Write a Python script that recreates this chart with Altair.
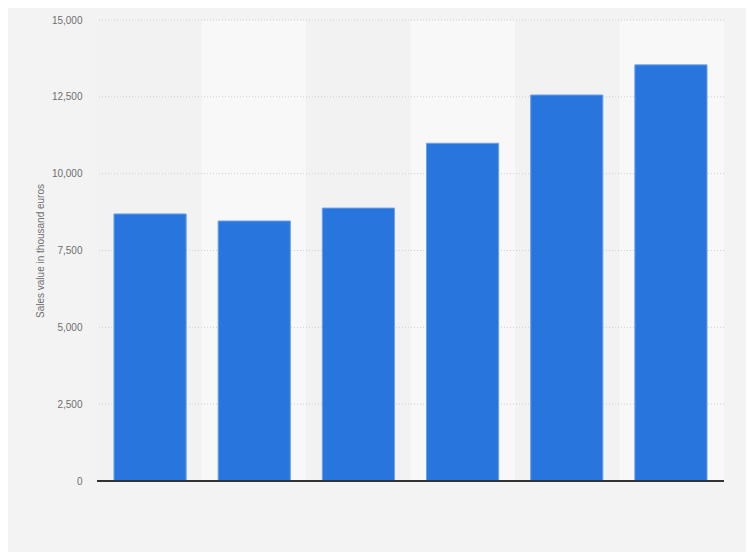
"""
Sales value in thousand euros, bar chart.
"""

import altair as alt
import pandas as pd

PLOT_WIDTH = 627
PLOT_HEIGHT = 461

# no category labels are shown on the reference, these are placeholders
categories = ["1", "2", "3", "4", "5", "6"]
sales = [8690, 8460, 8880, 10990, 12560, 13540]
y_ticks = [0, 2500, 5000, 7500, 10000, 12500, 15000]

df = pd.DataFrame({"Category": categories, "Sales": sales})
df["Shade"] = ["dark" if i % 2 == 0 else "light" for i in range(len(df))]
grid_df = pd.DataFrame({"Tick": y_ticks[1:]})

y_scale = alt.Scale(domain=[0, 15000])
y_axis = alt.Axis(title="Sales value in thousand euros",
                  values=y_ticks, format=",.0f", formatType="number",
                  grid=False, ticks=False, domain=False,
                  labelPadding=15,
                  labelColor="#6e6e6e", labelFontSize=10,
                  labelFont="Liberation Sans",
                  titleColor="#6e6e6e", titleFontSize=10,
                  titleFont="Liberation Sans",
                  titleFontWeight="normal", titlePadding=6)

stripes = alt.Chart(df).mark_rect().encode(
    x=alt.X("Category:N", sort=categories, axis=None,
            scale=alt.Scale(paddingInner=0, paddingOuter=0)),
    y=alt.datum(15000, scale=y_scale, axis=y_axis),
    y2=alt.datum(0),
    color=alt.Color("Shade:N", legend=None,
                    scale=alt.Scale(domain=["dark", "light"],
                                    range=["#f2f2f2", "#f8f8f8"])),
)

grid = alt.Chart(grid_df).mark_rule(
    color="#d0d0d0", strokeDash=[1, 2], strokeWidth=1
).encode(
    y=alt.Y("Tick:Q", scale=y_scale, axis=y_axis)
)

bars = alt.Chart(df).mark_bar(
    color="#2876dd", stroke="#6fa2ea", strokeWidth=1
).encode(
    x=alt.X("Category:N", sort=categories, axis=None,
            scale=alt.Scale(paddingInner=0.307, paddingOuter=0.163)),
    y=alt.Y("Sales:Q", scale=y_scale, axis=y_axis),
    tooltip=["Category:N", "Sales:Q"],
)

zero_line = alt.Chart(df).mark_rule(color="#333333", strokeWidth=1.5).encode(
    y=alt.datum(0, scale=y_scale, axis=y_axis)
)

chart = alt.layer(stripes, grid, bars, zero_line).resolve_scale(
    x="independent"
).properties(
    width=PLOT_WIDTH,
    height=PLOT_HEIGHT,
    autosize=alt.AutoSizeParams(type="none"),
    padding={"left": 89, "top": 12, "right": 22, "bottom": 71},
    background="#f3f3f3",
).configure_view(stroke=None)

chart.save("out.html", embed_options={"renderer": "svg", "actions": False})
